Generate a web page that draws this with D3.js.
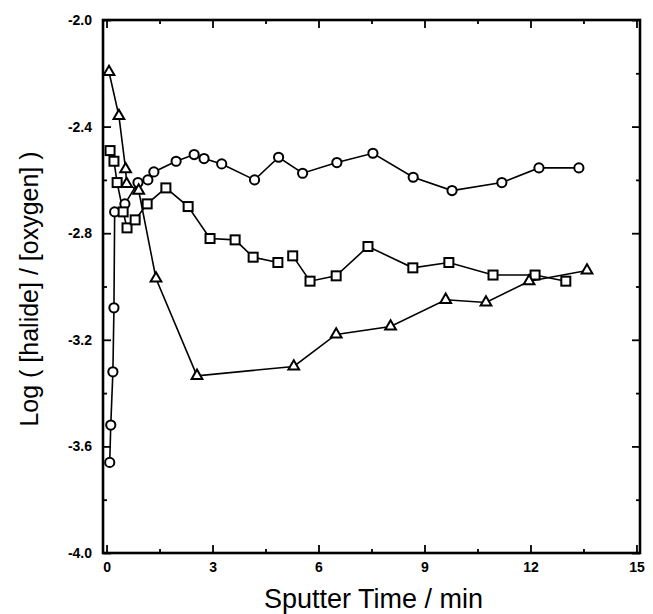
<!DOCTYPE html>
<html>
<head>
<meta charset="utf-8">
<script src="https://cdn.jsdelivr.net/npm/d3@7"></script>
<style>
  html, body { margin: 0; padding: 0; background: #fff; }
  svg { display: block; }
</style>
</head>
<body>
<svg id="chart" width="653" height="614"></svg>
<script>
// ---- data ----
const circleTime  = [0.09, 0.12, 0.18, 0.21, 0.23, 0.52, 0.89, 1.17, 1.34, 1.97, 2.48, 2.76, 3.26, 4.19, 4.87, 5.55, 6.52, 7.54, 8.68, 9.78, 11.19, 12.24, 13.37];
const circleValue = [-3.66, -3.52, -3.32, -3.08, -2.72, -2.69, -2.61, -2.60, -2.57, -2.53, -2.505, -2.52, -2.54, -2.60, -2.515, -2.575, -2.535, -2.50, -2.59, -2.64, -2.61, -2.555, -2.555];

const squareTimeA  = [0.10, 0.21, 0.30, 0.47, 0.58, 0.81, 1.15, 1.68, 2.31, 2.93, 3.64, 4.15, 4.85];
const squareValueA = [-2.49, -2.53, -2.61, -2.72, -2.78, -2.75, -2.69, -2.63, -2.70, -2.82, -2.825, -2.89, -2.91];
const squareTimeB  = [5.27, 5.76, 6.50, 7.40, 8.67, 9.69, 10.94, 12.13, 13.00];
const squareValueB = [-2.885, -2.98, -2.96, -2.85, -2.93, -2.91, -2.957, -2.957, -2.98];

const triangleTime  = [0.07, 0.35, 0.54, 0.57, 0.91, 1.40, 2.56, 5.30, 6.50, 8.04, 9.60, 10.74, 11.96, 13.60];
const triangleValue = [-2.195, -2.36, -2.56, -2.615, -2.64, -2.97, -3.335, -3.30, -3.18, -3.15, -3.05, -3.06, -2.98, -2.94];

const xMajorTicks = [0, 3, 6, 9, 12, 15];
const xMinorTicks = [1.5, 4.5, 7.5, 10.5, 13.5];
const yMajorTicks = [-2.0, -2.4, -2.8, -3.2, -3.6, -4.0];
const yMinorTicks = [-2.2, -2.6, -3.0, -3.4, -3.8];
const xTitle = "Sputter Time / min";
const yTitle = "Log ( [halide] / [oxygen] )";

(function () {
// ---- layout ----
const pLeft = 103, pRight = 640, pTop = 20, pBottom = 553;
const svg = d3.select("#chart");
const x = d3.scaleLinear().domain([-0.1, 15.1]).range([pLeft, pRight]);
const y = d3.scaleLinear().domain([-4.0, -2.0]).range([pBottom, pTop]);

const fontFam = "'Liberation Sans', Arial, Helvetica, sans-serif";
const fmt = d => d.toFixed(1);

function styleAxis(g) {
  g.select(".domain").remove();
  g.selectAll(".tick line").attr("stroke", "#000").attr("stroke-width", 1.8);
  g.selectAll(".tick text").attr("fill", "#000").attr("font-family", fontFam)
    .attr("font-weight", "bold").attr("font-size", 14);
}

// bottom axis
svg.append("g").attr("transform", `translate(0,${pBottom})`)
  .call(d3.axisBottom(x).tickValues(xMajorTicks).tickSize(-8).tickPadding(9).tickFormat(d3.format("d")))
  .call(styleAxis);
svg.append("g").attr("transform", `translate(0,${pBottom})`)
  .call(d3.axisBottom(x).tickValues(xMinorTicks).tickSize(-4).tickFormat(""))
  .call(styleAxis);
// top axis
svg.append("g").attr("transform", `translate(0,${pTop})`)
  .call(d3.axisTop(x).tickValues(xMajorTicks).tickSize(-8).tickFormat(""))
  .call(styleAxis);
svg.append("g").attr("transform", `translate(0,${pTop})`)
  .call(d3.axisTop(x).tickValues(xMinorTicks).tickSize(-4).tickFormat(""))
  .call(styleAxis);
// left axis
svg.append("g").attr("transform", `translate(${pLeft},0)`)
  .call(d3.axisLeft(y).tickValues(yMajorTicks).tickSize(-8).tickPadding(11).tickFormat(fmt))
  .call(styleAxis);
svg.append("g").attr("transform", `translate(${pLeft},0)`)
  .call(d3.axisLeft(y).tickValues(yMinorTicks).tickSize(-4).tickFormat(""))
  .call(styleAxis);
// right axis
svg.append("g").attr("transform", `translate(${pRight},0)`)
  .call(d3.axisRight(y).tickValues(yMajorTicks).tickSize(-8).tickFormat(""))
  .call(styleAxis);
svg.append("g").attr("transform", `translate(${pRight},0)`)
  .call(d3.axisRight(y).tickValues(yMinorTicks).tickSize(-4).tickFormat(""))
  .call(styleAxis);

// frame
svg.append("rect").attr("x", pLeft).attr("y", pTop)
  .attr("width", pRight - pLeft).attr("height", pBottom - pTop)
  .attr("fill", "none").attr("stroke", "#000").attr("stroke-width", 2.6);

// ---- series ----
const line = d3.line().x(d => x(d[0])).y(d => y(d[1]));
const zip = (a, b) => a.map((v, i) => [v, b[i]]);

const circles = zip(circleTime, circleValue);
const squaresA = zip(squareTimeA, squareValueA);
const squaresB = zip(squareTimeB, squareValueB);
const triangles = zip(triangleTime, triangleValue);

const lineG = svg.append("g").attr("fill", "none").attr("stroke", "#000").attr("stroke-width", 1.6);
[circles, squaresA, squaresB, triangles].forEach(s => lineG.append("path").attr("d", line(s)));

const markG = svg.append("g").attr("fill", "#fff").attr("stroke", "#000").attr("stroke-width", 2);
markG.selectAll("circle.c").data(circles).join("circle")
  .attr("cx", d => x(d[0])).attr("cy", d => y(d[1])).attr("r", 4.6);
const sq = 9;
markG.selectAll("rect.s").data(squaresA.concat(squaresB)).join("rect")
  .attr("x", d => x(d[0]) - sq / 2).attr("y", d => y(d[1]) - sq / 2)
  .attr("width", sq).attr("height", sq);
const tri = d3.symbol().type(d3.symbolTriangle).size(50);
markG.selectAll("path.t").data(triangles).join("path")
  .attr("transform", d => `translate(${x(d[0])},${y(d[1])})`)
  .attr("d", tri);

// ---- titles ----
svg.append("text").attr("x", (pLeft + pRight) / 2 + 2).attr("y", 608)
  .attr("text-anchor", "middle").attr("font-family", fontFam).attr("font-size", 27)
  .attr("fill", "#000").text(xTitle);
svg.append("text").attr("transform", "translate(38,289) rotate(-90)")
  .attr("text-anchor", "middle").attr("font-family", fontFam).attr("font-size", 25)
  .attr("fill", "#000").text(yTitle);
})();
</script>
</body>
</html>
